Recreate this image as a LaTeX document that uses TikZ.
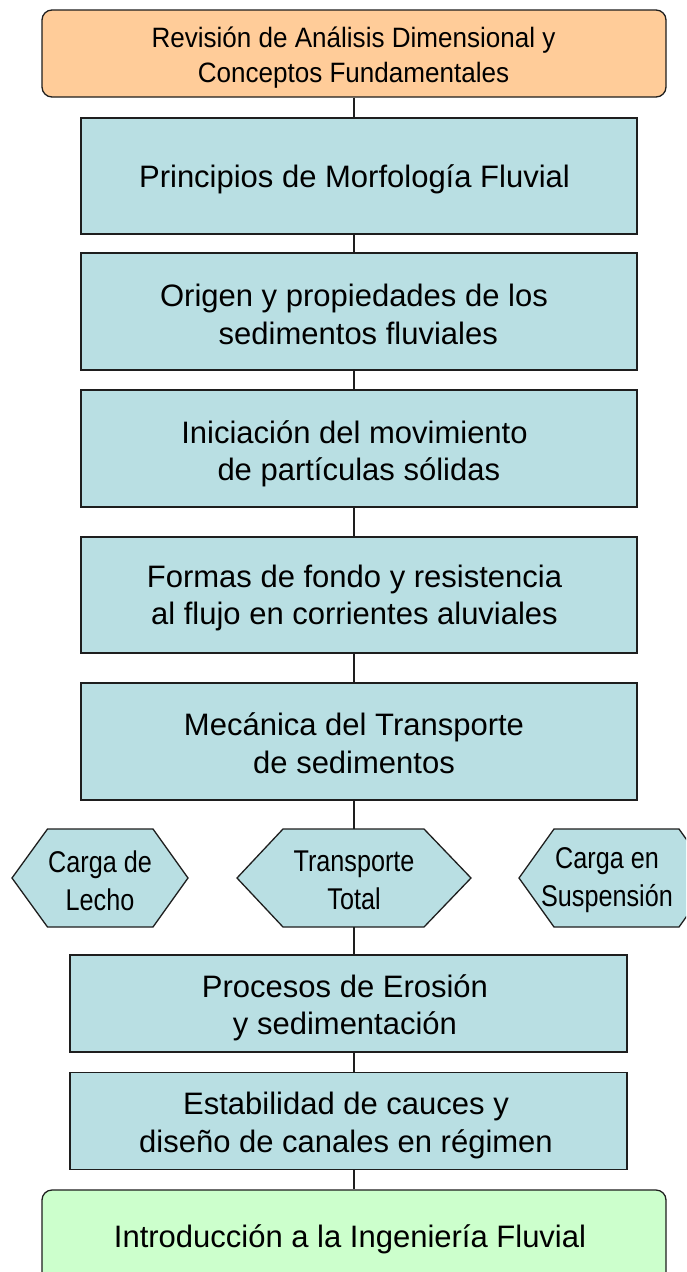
\documentclass[tikz,border=0pt]{standalone}
\usepackage{fontspec}
\setmainfont{Liberation Sans}
\newfontfamily\hexfont[FakeStretch=0.84]{Liberation Sans}
\newfontfamily\topfont[FakeStretch=0.93]{Liberation Sans}
\definecolor{boxblue}{RGB}{185,223,227}
\definecolor{peach}{RGB}{255,204,153}
\definecolor{mint}{RGB}{204,255,204}
\definecolor{edge}{RGB}{30,30,30}
\newcommand{\lsp}{\hspace*{8.6pt}}
\tikzset{
  base/.style={draw=edge, line width=1.3pt, inner sep=0pt},
  bluebox/.style={base, fill=boxblue, rectangle},
  roundbox/.style={base, rectangle, rounded corners=10pt},
  btext/.style={align=center, inner sep=0pt, font=\fontsize{31}{37.5}\selectfont},
  toptext/.style={align=center, inner sep=0pt, font=\topfont\fontsize{28}{35}\selectfont},
  hexshape/.style={draw=edge, line width=1.3pt, fill=boxblue},
  hextext/.style={align=center, inner sep=0pt, font=\hexfont\fontsize{30}{38}\selectfont},
  link/.style={draw=edge, line width=1.3pt}
}
\begin{document}
\begin{tikzpicture}[x=1pt,y=-1pt]
\useasboundingbox (0,0) rectangle (686,1272);
\clip (0,0) rectangle (686,1272);
\fill[white] (0,0) rectangle (686,1272);

% top box
\node[roundbox, fill=peach, minimum width=624pt, minimum height=87pt] (top) at (354,53.5) {};
\node[toptext] (ttop) at (353.5,58) {Revisión de Análisis Dimensional y\\Conceptos Fundamentales};

% main boxes
\node[bluebox, minimum width=556pt, minimum height=116pt] (b1) at (359,176) {};
\node[btext] (t1) at (354.5,179.5) {Principios de Morfología Fluvial};

\node[bluebox, minimum width=556pt, minimum height=117pt] (b2) at (359,311.5) {};
\node[btext] (t2) at (354,314.5) {Origen y propiedades de los\\\lsp sedimentos fluviales};

\node[bluebox, minimum width=556pt, minimum height=117pt] (b3) at (359,448.5) {};
\node[btext] (t3) at (354.5,454) {Iniciación del movimiento\\\lsp de partículas sólidas};

\node[bluebox, minimum width=556pt, minimum height=116pt] (b4) at (359,595) {};
\node[btext] (t4) at (354.5,598) {Formas de fondo y resistencia\\al flujo en corrientes aluviales};

\node[bluebox, minimum width=556pt, minimum height=117pt] (b5) at (359,741.5) {};
\node[btext] (t5) at (354,743) {Mecánica del Transporte\\de sedimentos};

% hexagons
\path[hexshape] (12,878) -- (47.5,829) -- (153,829) -- (188,878) -- (153,927) -- (47.5,927) -- cycle;
\path[hexshape] (237,878) -- (283,829) -- (424,829) -- (471,878) -- (424,927) -- (283,927) -- cycle;
\path[hexshape] (519,878) -- (554,829) -- (679,829) -- (714,878) -- (679,927) -- (554,927) -- cycle;
\node[hextext, minimum height=98pt] (hl) at (100,880.5) {Carga de\\Lecho};
\node[hextext, minimum height=98pt] (hm) at (354,878) {};
\node[hextext] (hmt) at (354,880.5) {Transporte\\Total};
\node[hextext, minimum height=98pt] (hr) at (607,880.5) {Carga en\\Suspensión};

% lower boxes
\node[bluebox, minimum width=557pt, minimum height=97pt] (b6) at (348.5,1003.5) {};
\node[btext] (t6) at (345,1008) {Procesos de Erosión\\y sedimentación};

\node[bluebox, minimum width=557pt, minimum height=97pt] (b7) at (348.5,1121) {};
\node[btext] (t7) at (346,1125.5) {Estabilidad de cauces y\\diseño de canales en régimen};

% bottom box
\node[roundbox, fill=mint, minimum width=624pt, minimum height=94pt] (bot) at (354,1237) {};
\node[btext] (tbot) at (350,1239) {Introducción a la Ingeniería Fluvial};

% connectors
\draw[link] (top.south) -- (top.south |- b1.north);
\draw[link] (top.south |- b1.south) -- (top.south |- b2.north);
\draw[link] (top.south |- b2.south) -- (top.south |- b3.north);
\draw[link] (top.south |- b3.south) -- (top.south |- b4.north);
\draw[link] (top.south |- b4.south) -- (top.south |- b5.north);
\draw[link] (top.south |- b5.south) -- (hm.north);
\draw[link] (hm.south) -- (hm.south |- b6.north);
\draw[link] (hm.south |- b6.south) -- (hm.south |- b7.north);
\draw[link] (hm.south |- b7.south) -- (bot.north);
\end{tikzpicture}
\end{document}
